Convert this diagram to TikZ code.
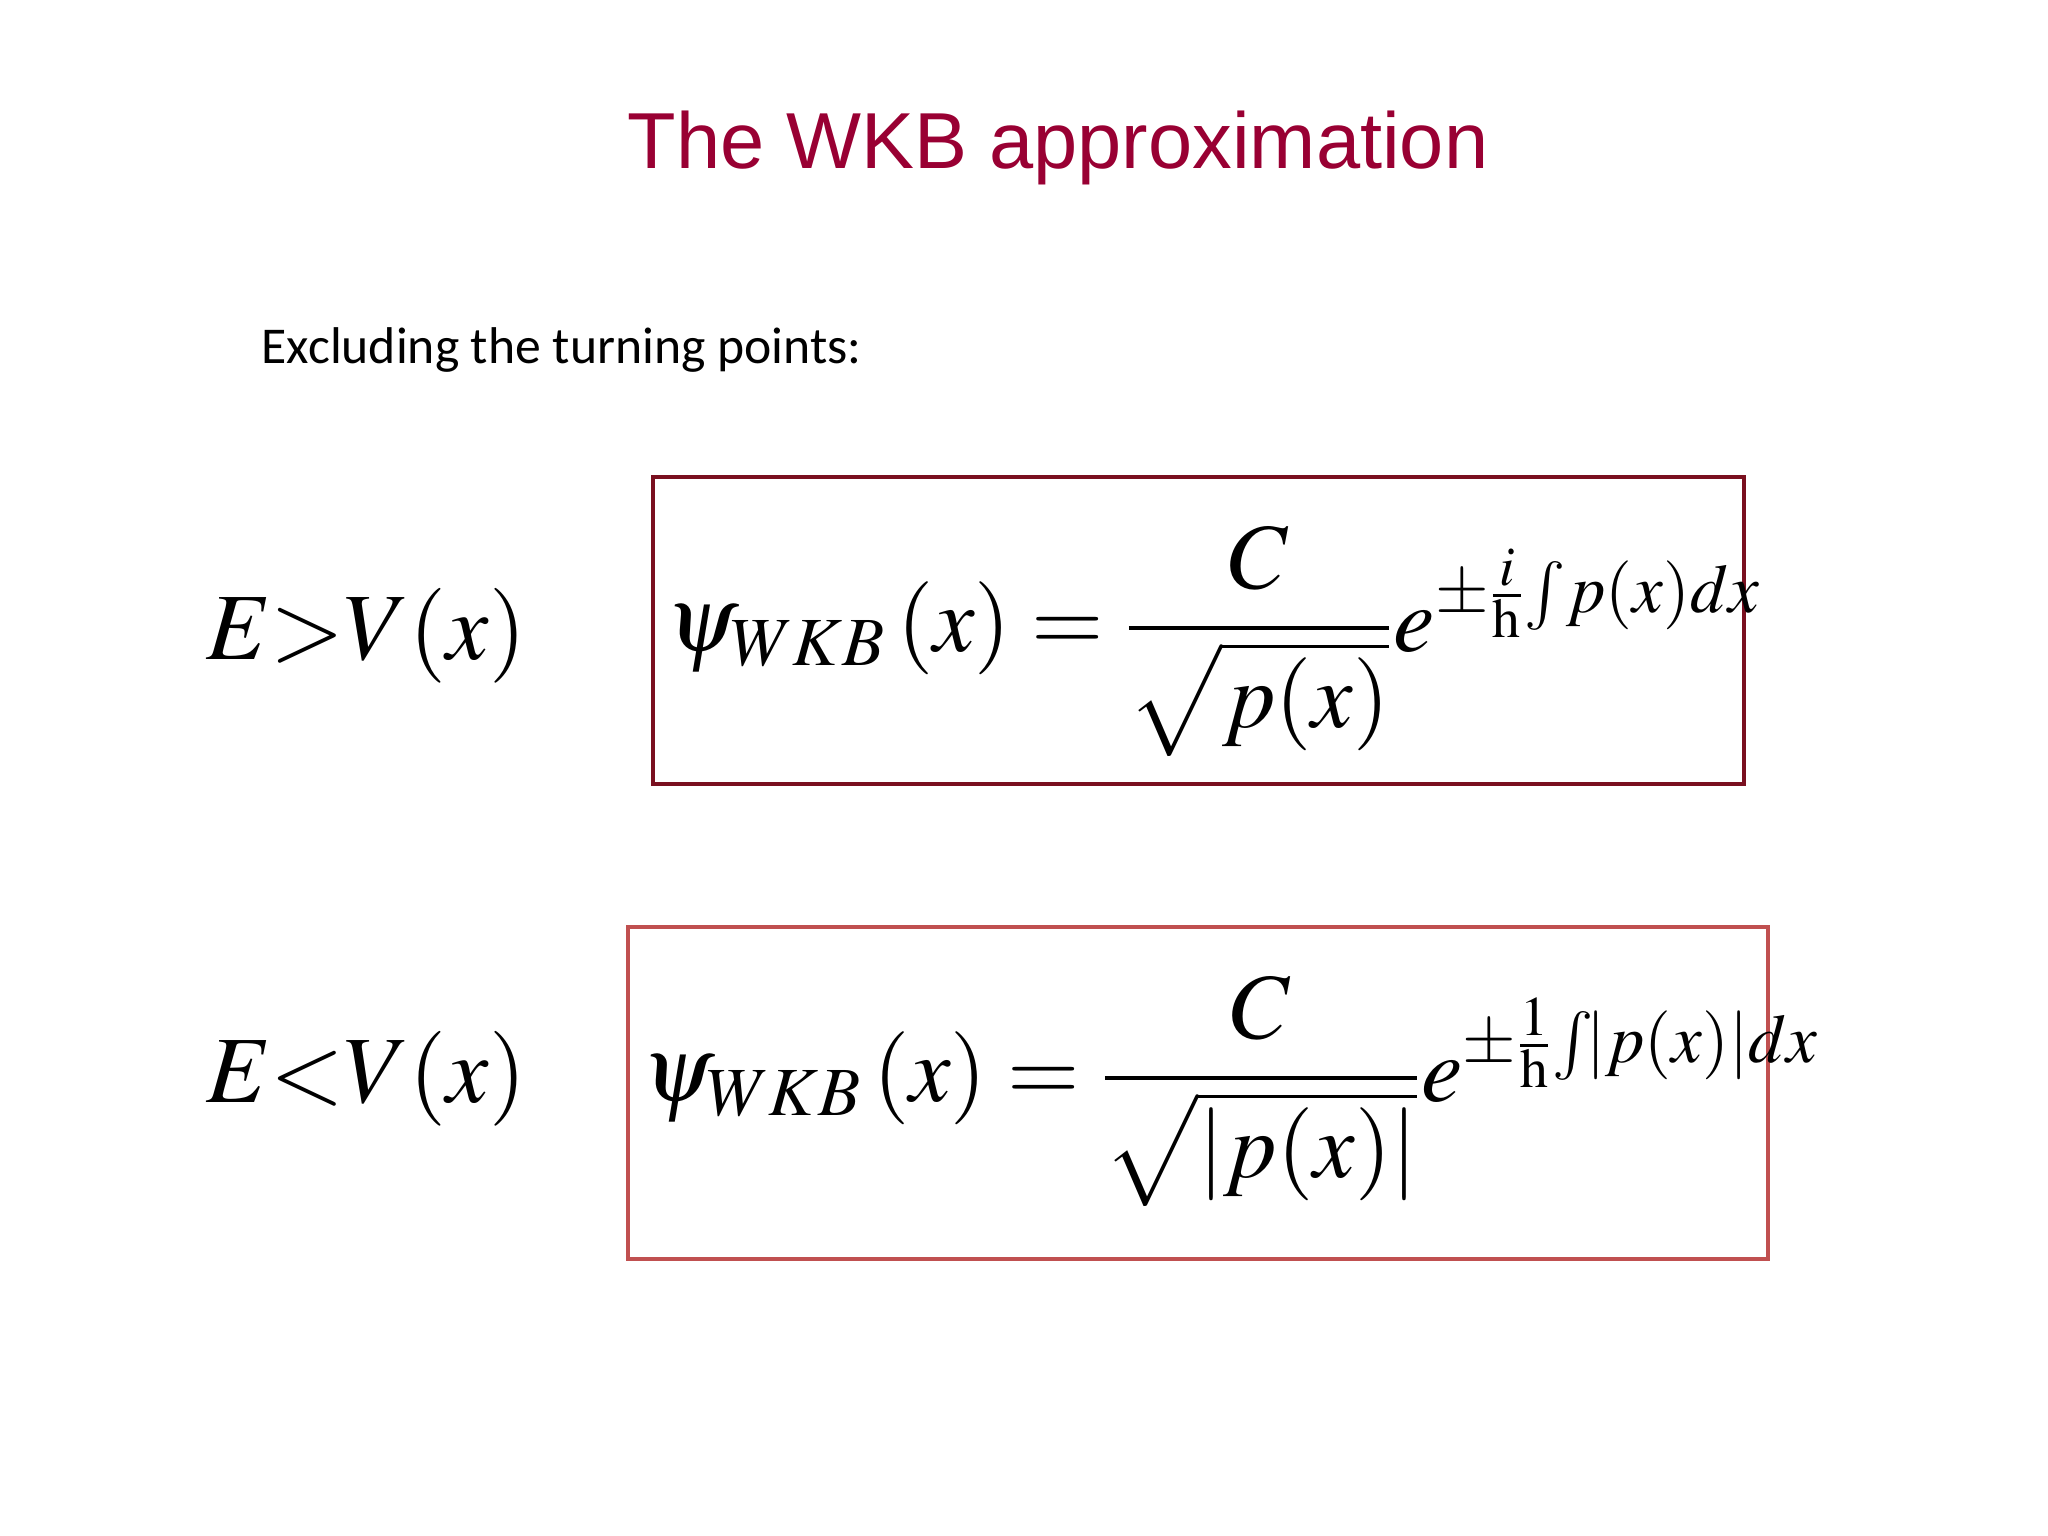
\documentclass[tikz,border=0pt]{standalone}
\usepackage{mathptmx}
\usepackage{fontspec}
\setmainfont{Liberation Serif}
\newfontfamily\titlefont{Liberation Sans}
\newfontfamily\bodyfont{Carlito}
\definecolor{titlered}{HTML}{990033}
\definecolor{boxone}{HTML}{7A1020}
\definecolor{boxtwo}{HTML}{C05050}
\tikzset{eqbox/.style={line width=1.2pt}, eq/.style={font=\fontsize{26.5}{32}\selectfont, inner sep=0pt}}
\begin{document}
\begin{tikzpicture}
\useasboundingbox (0,0) rectangle (20.48,15.36);
\node[text=titlered,font=\titlefont\fontsize{22.6}{27}\selectfont] (title) at (10.58,13.88) {The WKB approximation};
\node[anchor=west,font=\bodyfont\fontsize{14.7}{18}\selectfont,inner sep=0pt] (excl) at (2.61,11.86) {Excluding the turning points:};
\draw[eqbox,boxone] (6.53,10.59) rectangle (17.44,7.52);
\draw[eqbox,boxtwo] (6.28,6.09) rectangle (17.68,2.77);
\node[eq,font=\fontsize{27}{32}\selectfont] (c1) at (3.66,9.0) {$E{>}V\!\left(x\right)$};
\node[eq,font=\fontsize{27}{32}\selectfont] (c2) at (3.66,4.57) {$E{<}V\!\left(x\right)$};
\node[eq,anchor=west] (f1) at (6.66,8.95) {$\displaystyle \psi_{WKB}\left(x\right)=\frac{C}{\sqrt{p(x)}}e^{\pm\frac{i}{\mathrm{h}}\!\int\! p(x)dx}$};
\node[eq,anchor=west] (f2) at (6.42,4.45) {$\displaystyle \psi_{WKB}\left(x\right)=\frac{C}{\sqrt{\left|p(x)\right|}}e^{\pm\frac{1}{\mathrm{h}}\!\int\! \left|p(x)\right|dx}$};
\end{tikzpicture}
\end{document}
